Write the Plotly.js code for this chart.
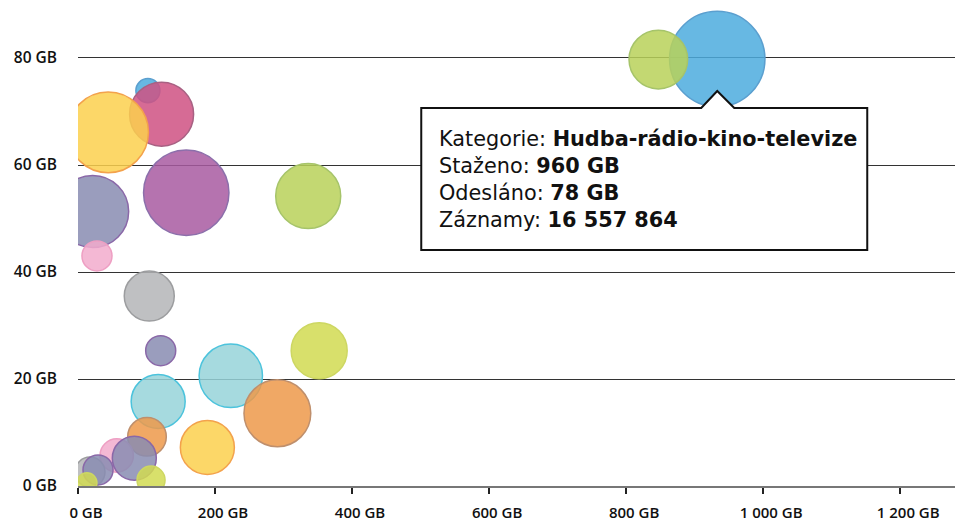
<!DOCTYPE html>
<html><head><meta charset="utf-8">
<script src="https://cdn.plot.ly/plotly-3.0.1.min.js"></script>
<style>html,body{margin:0;padding:0;background:#fff;overflow:hidden}</style>
</head><body><div id="chart" style="width:956px;height:523px"></div>
<script>
// Staženo (downloaded, GB) – x
const downloadedGB = [933, 847, 102, 122, 44, 158, 21.4, 336, 27.7, 104, 120.7, 223, 352, 291, 117, 188.8, 100.7, 56.5, 82.2, 106.6, 17.5, 29.2, 13];
// Odesláno (uploaded, GB) – y
const uploadedGB = [79.8, 79.7, 73.9, 69.5, 66.1, 54.8, 51.3, 54.2, 43.0, 35.5, 25.3, 20.6, 25.3, 13.6, 15.8, 7.2, 9.2, 5.7, 5.2, 1.1, 2.6, 3.0, 0.6];
// Záznamy (records) – bubble area
const records = [16557864, 6250000, 1050000, 7450000, 11820000, 13270000, 9430000, 7690000, 1640000, 4550000, 1640000, 7310000, 5710000, 8120000, 5310000, 5310000, 2710000, 2030000, 3520000, 1430000, 1640000, 1640000, 730000];

const xTickVals = [0, 200, 400, 600, 800, 1000, 1200];
const xTickText = ['0 GB', '200 GB', '400 GB', '600 GB', '800 GB', '1 000 GB', '1 200 GB'];
const yTickVals = [0, 20, 40, 60, 80];
const yTickText = ['0 GB', '20 GB', '40 GB', '60 GB', '80 GB'];

const tooltipCategory = 'Hudba-rádio-kino-televize';
const tooltipDownloaded = '960 GB';
const tooltipUploaded = '78 GB';

// styles
const C = {
  blue:   ['rgba(76,172,222,0.85)',  '#5b9fcf'],
  green:  ['rgba(184,209,89,0.85)',  '#a6c46a'],
  lime:   ['rgba(209,218,81,0.85)',  '#cdd762'],
  yellow: ['rgba(251,208,77,0.85)',  '#f3a24c'],
  orange: ['rgba(237,153,74,0.85)',  '#bf8f6c'],
  cyan:   ['rgba(151,211,217,0.85)', '#4cc3dc'],
  pink:   ['rgba(242,171,204,0.85)', '#ee9fc3'],
  slate:  ['rgba(136,140,177,0.85)', '#8a68a8'],
  purple: ['rgba(168,91,161,0.85)',  '#8c6fab'],
  crimson:['rgba(207,81,130,0.85)',  '#a86183'],
  gray:   ['rgba(180,181,183,0.85)', '#9c9d9f']
};
const colorKeys = ['blue','green','blue','crimson','yellow','purple','slate','green','pink','gray','slate','cyan','lime','orange','cyan','yellow','orange','pink','slate','lime','gray','slate','lime'];

const sizeref = 2 * records[0] / (95.4 * 95.4);
const fmt = n => String(n).replace(/\B(?=(\d{3})+(?!\d))/g, ' ');

const FONT = 'DejaVu Sans, sans-serif';
const TICKFONT = 'Open Sans, sans-serif';

const trace = {
  type: 'scatter', mode: 'markers',
  x: downloadedGB, y: uploadedGB,
  marker: {
    size: records, sizemode: 'area', sizeref: sizeref,
    color: colorKeys.map(k => C[k][0]),
    line: {color: colorKeys.map(k => C[k][1]), width: 1.5},
    opacity: 1
  },
  hoverinfo: 'skip'
};

const layout = {
  width: 956, height: 523,
  margin: {l: 78, r: 1, t: 0, b: 37, autoexpand: false},
  paper_bgcolor: '#fff', plot_bgcolor: '#fff',
  showlegend: false,
  hovermode: false,
  font: {family: FONT, color: '#111'},
  xaxis: {
    range: [0, 1280], tickvals: xTickVals, ticktext: xTickText,
    showgrid: false, zeroline: false,
    showline: true, linecolor: '#777', linewidth: 2,
    ticks: 'outside', ticklen: 6, tickwidth: 1.5, tickcolor: '#222',
    ticklabelstandoff: 6, ticklabelshift: 8,
    tickfont: {family: TICKFONT, size: 15, color: '#111', weight: 600}
  },
  yaxis: {
    range: [0, 90.84], tickvals: yTickVals, ticktext: yTickText,
    showgrid: true, gridcolor: '#333', gridwidth: 1,
    zeroline: false, showline: false, ticks: '',
    ticklabelstandoff: 20,
    tickfont: {family: TICKFONT, size: 15.5, color: '#111', weight: 600}
  },
  shapes: [{
    type: 'path', xref: 'x', yref: 'y',
    xsizemode: 'pixel', ysizemode: 'pixel',
    xanchor: downloadedGB[0], yanchor: uploadedGB[0],
    path: 'M -296 -49 L -16 -49 L 0 -32 L 17 -49 L 150 -49 L 150 -191 L -296 -191 Z',
    line: {color: '#111', width: 2}, fillcolor: '#fff', layer: 'above'
  }],
  annotations: [{
    xref: 'x', yref: 'y', x: downloadedGB[0], y: uploadedGB[0],
    xanchor: 'left', yanchor: 'top', xshift: -280, yshift: -66,
    showarrow: false, align: 'left',
    font: {family: FONT, size: 20.8, color: '#111'},
    text: 'Kategorie: <b>' + tooltipCategory + '</b><br>Staženo: <b>' + tooltipDownloaded +
          '</b><br>Odesláno: <b>' + tooltipUploaded + '</b><br>Záznamy: <b>' + fmt(records[0]) + '</b>'
  }]
};

Plotly.newPlot('chart', [trace], layout, {displayModeBar: false, staticPlot: true});
</script></body></html>
